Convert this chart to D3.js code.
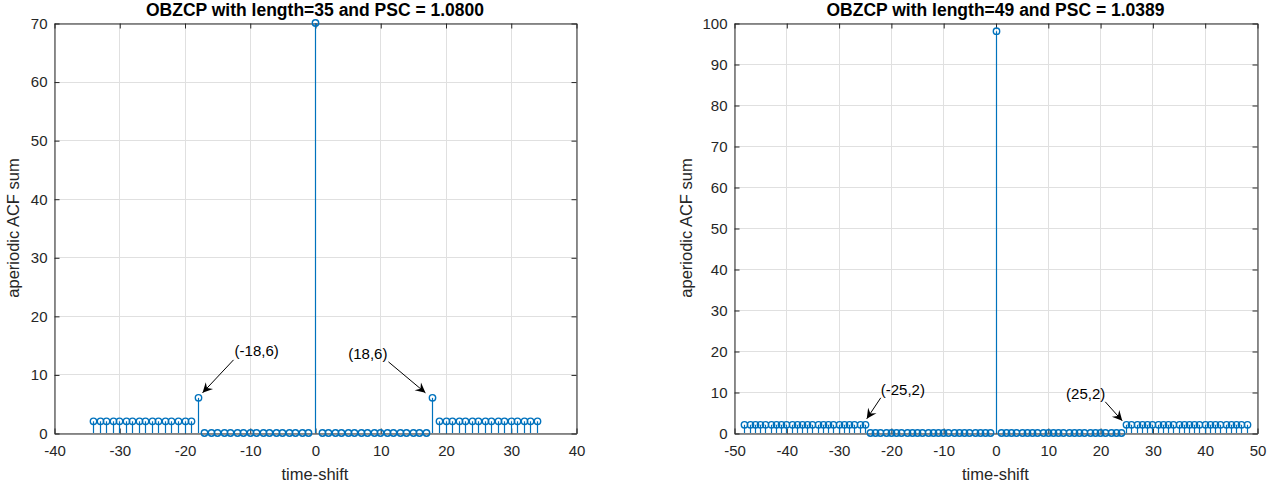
<!DOCTYPE html>
<html>
<head>
<meta charset="utf-8">
<script src="https://cdn.jsdelivr.net/npm/d3@7"></script>
<style>
  body { margin: 0; background: #fff; }
  svg { display: block; font-family: "Liberation Sans", Arial, sans-serif; }
</style>
</head>
<body>
<svg width="1285" height="488"></svg>
<script>
// ---- data ----
const shifts35 = [-34,-33,-32,-31,-30,-29,-28,-27,-26,-25,-24,-23,-22,-21,-20,-19,-18,-17,-16,-15,-14,-13,-12,-11,-10,-9,-8,-7,-6,-5,-4,-3,-2,-1,0,
  1,2,3,4,5,6,7,8,9,10,11,12,13,14,15,16,17,18,19,20,21,22,23,24,25,26,27,28,29,30,31,32,33,34];
const acf35 = [2,2,2,2,2,2,2,2,2,2,2,2,2,2,2,2,6,0,0,0,0,0,0,0,0,0,0,0,0,0,0,0,0,0,70,
  0,0,0,0,0,0,0,0,0,0,0,0,0,0,0,0,0,6,2,2,2,2,2,2,2,2,2,2,2,2,2,2,2,2];

const shifts49 = [-48,-47,-46,-45,-44,-43,-42,-41,-40,-39,-38,-37,-36,-35,-34,-33,-32,-31,-30,-29,-28,-27,-26,-25,
  -24,-23,-22,-21,-20,-19,-18,-17,-16,-15,-14,-13,-12,-11,-10,-9,-8,-7,-6,-5,-4,-3,-2,-1,0,
  1,2,3,4,5,6,7,8,9,10,11,12,13,14,15,16,17,18,19,20,21,22,23,24,
  25,26,27,28,29,30,31,32,33,34,35,36,37,38,39,40,41,42,43,44,45,46,47,48];
const acf49 = [2,2,2,2,2,2,2,2,2,2,2,2,2,2,2,2,2,2,2,2,2,2,2,2,
  0,0,0,0,0,0,0,0,0,0,0,0,0,0,0,0,0,0,0,0,0,0,0,0,98,
  0,0,0,0,0,0,0,0,0,0,0,0,0,0,0,0,0,0,0,0,0,0,0,0,
  2,2,2,2,2,2,2,2,2,2,2,2,2,2,2,2,2,2,2,2,2,2,2,2];

const xTicks35 = [-40,-30,-20,-10,0,10,20,30,40];
const yTicks35 = [0,10,20,30,40,50,60,70];
const xTicks49 = [-50,-40,-30,-20,-10,0,10,20,30,40,50];
const yTicks49 = [0,10,20,30,40,50,60,70,80,90,100];

const notes35 = [{x: -18, y: 6, label: "(-18,6)"}, {x: 18, y: 6, label: "(18,6)"}];
const notes49 = [{x: -25, y: 2, label: "(-25,2)"}, {x: 25, y: 2, label: "(25,2)"}];

const title35 = "OBZCP with length=35 and PSC = 1.0800";
const title49 = "OBZCP with length=49 and PSC = 1.0389";

// ---- drawing ----
const svg = d3.select("svg");
const blue = "#0072BD";
const axisColor = "#262626";
const font = "'Liberation Sans', Arial, sans-serif";

function drawPanel(opt) {
  const { left, right, top, bottom } = opt.box;
  const x = d3.scaleLinear().domain(d3.extent(opt.xTicks)).range([left, right]);
  const y = d3.scaleLinear().domain(d3.extent(opt.yTicks)).range([bottom, top]);
  const px = v => Math.round(x(v)) + 0.5;
  const g = svg.append("g");

  // grid
  g.selectAll(".gx").data(opt.xTicks).join("line")
    .attr("x1", d => px(d)).attr("x2", d => px(d))
    .attr("y1", top).attr("y2", bottom)
    .attr("stroke", "#e0e0e0").attr("stroke-width", 1);
  g.selectAll(".gy").data(opt.yTicks).join("line")
    .attr("y1", d => Math.round(y(d)) + 0.5).attr("y2", d => Math.round(y(d)) + 0.5)
    .attr("x1", left).attr("x2", right)
    .attr("stroke", "#e0e0e0").attr("stroke-width", 1);

  // axes (box with inward ticks)
  const tick = 5;
  const fmt = d => String(d);
  const axB = g.append("g").attr("transform", `translate(0.5,${bottom + 0.5})`)
    .call(d3.axisBottom(x).tickValues(opt.xTicks).tickSizeInner(-tick).tickSizeOuter(0).tickPadding(12).tickFormat(fmt));
  const axT = g.append("g").attr("transform", `translate(0.5,${top + 0.5})`)
    .call(d3.axisTop(x).tickValues(opt.xTicks).tickSizeInner(-tick).tickSizeOuter(0).tickFormat(""));
  const axL = g.append("g").attr("transform", `translate(${left + 0.5},0.5)`)
    .call(d3.axisLeft(y).tickValues(opt.yTicks).tickSizeInner(-tick).tickSizeOuter(0).tickPadding(7).tickFormat(fmt));
  const axR = g.append("g").attr("transform", `translate(${right + 0.5},0.5)`)
    .call(d3.axisRight(y).tickValues(opt.yTicks).tickSizeInner(-tick).tickSizeOuter(0).tickFormat(""));
  [axB, axT, axL, axR].forEach(a => {
    a.selectAll("path, line").attr("stroke", axisColor);
    a.selectAll("text").attr("fill", axisColor).style("font-size", "15px").style("font-family", font);
  });

  // stems
  const pts = opt.xs.map((v, i) => ({ x: v, y: opt.ys[i] }));
  g.selectAll(".stem").data(pts).join("line")
    .attr("x1", d => px(d.x)).attr("x2", d => px(d.x))
    .attr("y1", y(0)).attr("y2", d => y(d.y))
    .attr("stroke", blue).attr("stroke-width", 1.2);
  g.selectAll(".mk").data(pts).join("circle")
    .attr("cx", d => px(d.x)).attr("cy", d => y(d.y)).attr("r", 3.2)
    .attr("fill", "none").attr("stroke", blue).attr("stroke-width", 1.4);

  // annotations
  opt.notes.forEach((n, i) => {
    const off = opt.noteOffsets[i];
    const mx = x(n.x), my = y(n.y);
    const tip = [mx + off.tip[0], my + off.tip[1]];
    const tail = [mx + off.tail[0], my + off.tail[1]];
    g.append("line")
      .attr("x1", tail[0]).attr("y1", tail[1]).attr("x2", tip[0]).attr("y2", tip[1])
      .attr("stroke", "#000").attr("stroke-width", 1);
    // vback2 style arrow head
    const ang = Math.atan2(tip[1] - tail[1], tip[0] - tail[0]);
    const L = 10, W = 5;
    const ux = Math.cos(ang), uy = Math.sin(ang);
    const bx = tip[0] - ux * L, by = tip[1] - uy * L;
    const ix = tip[0] - ux * L * 0.65, iy = tip[1] - uy * L * 0.65;
    const path = `M${tip[0]},${tip[1]}L${bx - uy * W},${by + ux * W}L${ix},${iy}L${bx + uy * W},${by - ux * W}Z`;
    g.append("path").attr("d", path).attr("fill", "#000");
    g.append("text")
      .attr("x", mx + off.text[0]).attr("y", my + off.text[1])
      .attr("text-anchor", off.anchor).attr("dominant-baseline", "middle")
      .style("font-size", "15px").attr("fill", "#000").text(n.label);
  });

  // title and labels
  g.append("text").attr("x", (left + right) / 2).attr("y", 16)
    .attr("text-anchor", "middle").style("font-size", "17.5px").style("font-weight", "bold")
    .attr("fill", "#000").text(opt.title);
  g.append("text").attr("x", (left + right) / 2).attr("y", 480)
    .attr("text-anchor", "middle").style("font-size", "16.5px").attr("fill", axisColor)
    .text("time-shift");
  g.append("text")
    .attr("transform", `translate(${opt.ylabelX},${(top + bottom) / 2}) rotate(-90)`)
    .attr("text-anchor", "middle").style("font-size", "16.5px").attr("fill", axisColor)
    .text("aperiodic ACF sum");
}

drawPanel({
  box: { left: 54, right: 576, top: 23, bottom: 433 },
  xs: shifts35, ys: acf35, xTicks: xTicks35, yTicks: yTicks35,
  notes: notes35, title: title35, ylabelX: 19,
  noteOffsets: [
    { tip: [5, -5], tail: [36, -38], text: [37, -46], anchor: "start" },
    { tip: [-7, -5], tail: [-44, -36], text: [-45, -43], anchor: "end" }
  ]
});

drawPanel({
  box: { left: 734, right: 1257, top: 23, bottom: 433 },
  xs: shifts49, ys: acf49, xTicks: xTicks49, yTicks: yTicks49,
  notes: notes49, title: title49, ylabelX: 692,
  noteOffsets: [
    { tip: [2, -6], tail: [16, -27], text: [16, -34], anchor: "start" },
    { tip: [-4, -4], tail: [-21, -23], text: [-21, -30], anchor: "end" }
  ]
});
</script>
</body>
</html>
